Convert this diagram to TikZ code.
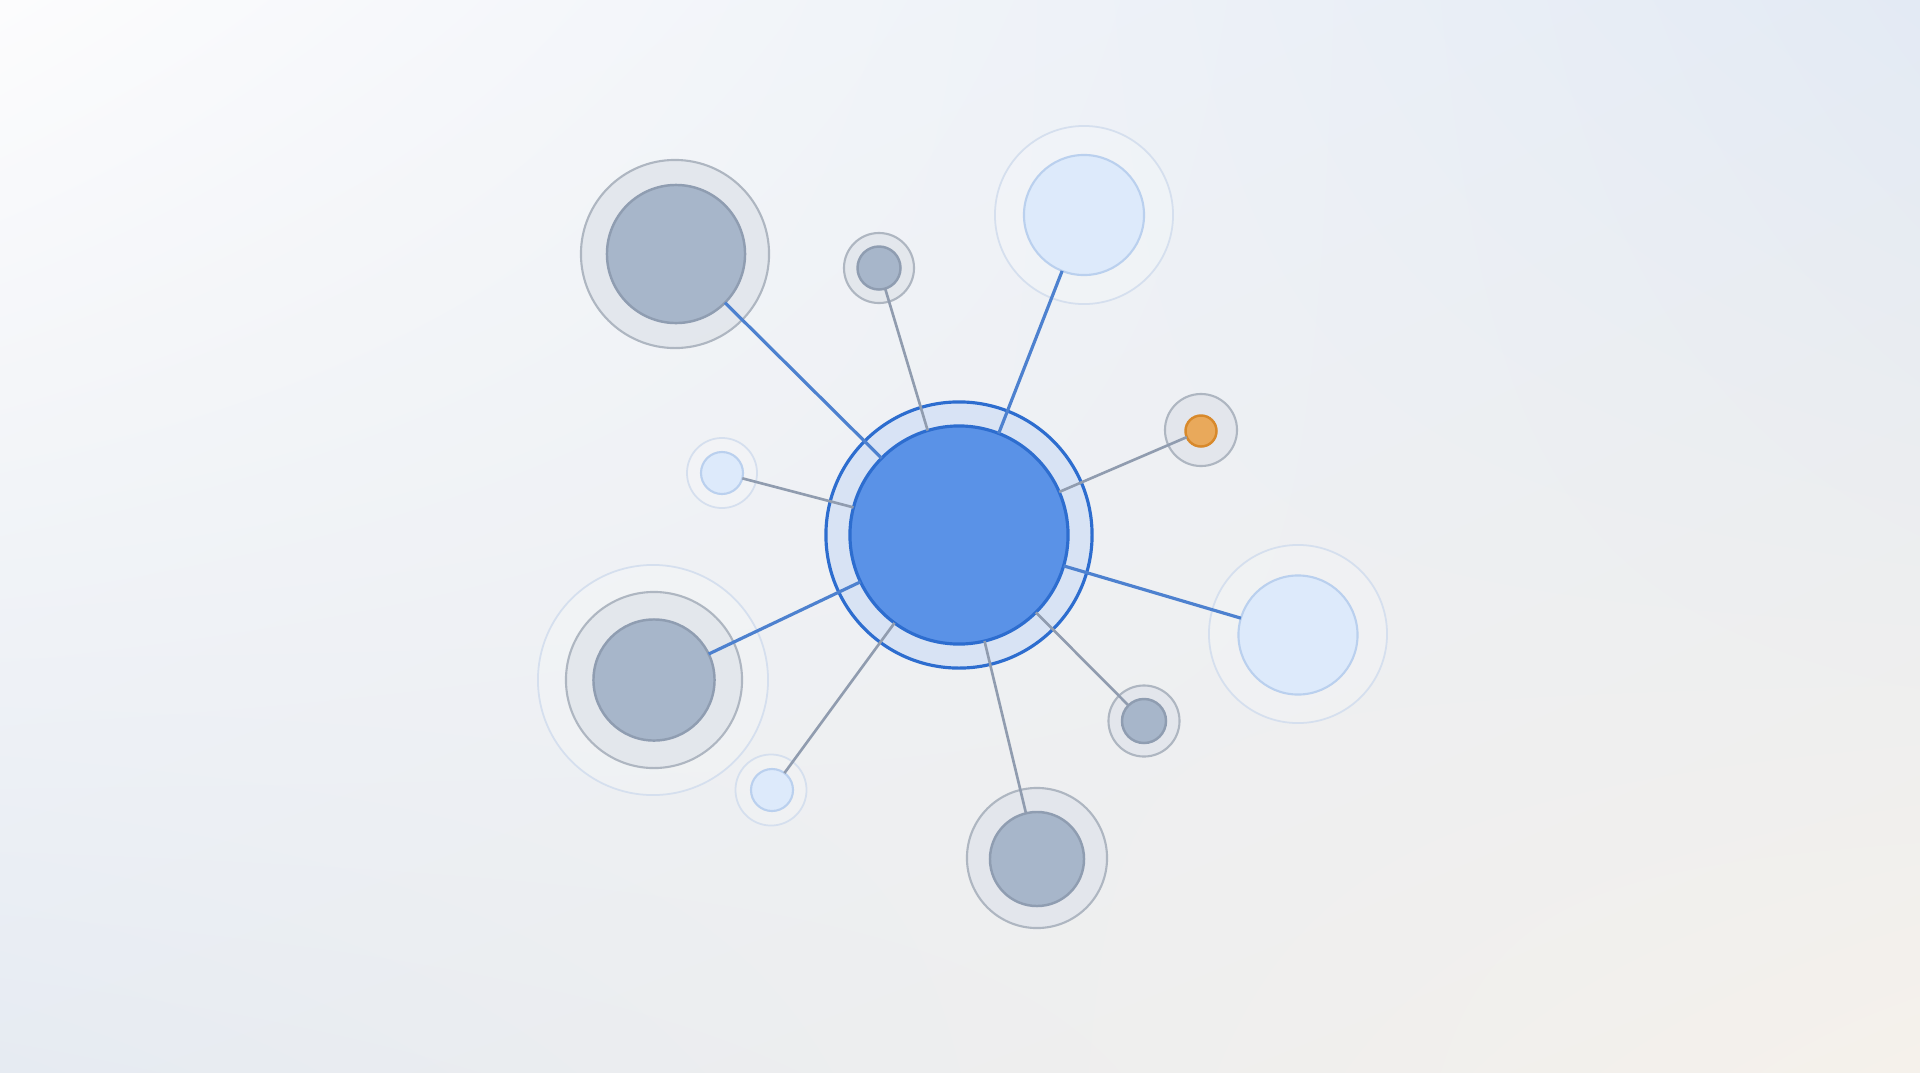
\documentclass[tikz,border=0pt]{standalone}
\usepackage{tikz}
\usetikzlibrary{shadings}
\definecolor{bgtl}{HTML}{FCFCFD}
\definecolor{bgtr}{HTML}{E3EAF4}
\definecolor{bgbl}{HTML}{E6EBF2}
\definecolor{bgbr}{HTML}{F5F1EB}
\definecolor{hubfill}{HTML}{5A92E7}
\definecolor{hubedge}{HTML}{2D6DCF}
\definecolor{hubring}{HTML}{D5E1F5}
\definecolor{greyfill}{HTML}{A7B6CA}
\definecolor{greyedge}{HTML}{8F9DB1}
\definecolor{greyring}{HTML}{E2E6EC}
\definecolor{greyringedge}{HTML}{AEB6C1}
\definecolor{paleblue}{HTML}{DDEAFB}
\definecolor{paleedge}{HTML}{BAD0EE}
\definecolor{palering}{HTML}{D5DFEE}
\definecolor{orfill}{HTML}{E9A95B}
\definecolor{oredge}{HTML}{D8892B}
\definecolor{bluelink}{HTML}{4D81CF}
\definecolor{greylink}{HTML}{909CAF}
\tikzset{
  rad/.style={circle,inner sep=0pt,outer sep=0pt,minimum size=0.1mm*#1},
  hubdisk/.style={rad=#1,fill=hubfill,draw=hubedge,line width=0.9pt},
  hubhalo/.style={rad=#1,fill=hubring,fill opacity=0.85,draw=hubedge,line width=0.9pt},
  greydisk/.style={rad=#1,fill=greyfill,draw=greyedge,line width=0.7pt},
  greyhalo/.style={rad=#1,fill=greyring,fill opacity=0.9,draw=greyringedge,line width=0.6pt},
  paledisk/.style={rad=#1,fill=paleblue,draw=paleedge,line width=0.6pt},
  palehalo/.style={rad=#1,fill=white,fill opacity=0.15,draw=palering,line width=0.5pt},
  ordisk/.style={rad=#1,fill=orfill,draw=oredge,line width=0.7pt},
  blink/.style={draw=bluelink,line width=0.9pt},
  glink/.style={draw=greylink,line width=0.75pt}
}
\begin{document}
\begin{tikzpicture}[x=0.01cm,y=-0.01cm]
  \shade[upper left=bgtl,upper right=bgtr,lower left=bgbl,lower right=bgbr] (0,0) rectangle (1920,1072);
  \useasboundingbox (0,0) rectangle (1920,1072);

  \node (tlring) [greyhalo=188] at (675,254) {};
  \node (tpring) [greyhalo=70] at (879,268) {};
  \node (trring) [palehalo=178] at (1084,215) {};
  \node (orring) [greyhalo=72] at (1201,430) {};
  \node (rtring) [palehalo=178] at (1298,634) {};
  \node (brring) [greyhalo=71] at (1144,721) {};
  \node (btring) [greyhalo=140] at (1037,858) {};
  \node (blring) [palehalo=71] at (771,790) {};
  \node (lfhalo) [palehalo=230] at (653,680) {};
  \node (lfring) [greyhalo=176] at (654,680) {};
  \node (lsring) [palehalo=70] at (722,473) {};
  \node (hubring) [hubhalo=266] at (959,535) {};

  \node (hub) [hubdisk=218] at (959,535) {};
  \node (tl) [greydisk=138] at (676,254) {};
  \node (tp) [greydisk=43] at (879,268) {};
  \node (tr) [paledisk=120] at (1084,215) {};
  \node (or) [ordisk=31] at (1201,431) {};
  \node (rt) [paledisk=119] at (1298,635) {};
  \node (br) [greydisk=44] at (1144,721) {};
  \node (bt) [greydisk=94] at (1037,859) {};
  \node (bl) [paledisk=42] at (772,790) {};
  \node (lf) [greydisk=121] at (654,680) {};
  \node (ls) [paledisk=42] at (722,473) {};

  \draw[blink] (hub) -- (tl);
  \draw[glink] (hub) -- (tp);
  \draw[blink] (hub) -- (tr);
  \draw[glink] (hub) -- (or);
  \draw[blink] (hub) -- (rt);
  \draw[glink] (hub) -- (br);
  \draw[glink] (hub) -- (bt);
  \draw[glink] (hub) -- (bl);
  \draw[blink] (hub) -- (lf);
  \draw[glink] (hub) -- (ls);
\end{tikzpicture}
\end{document}
